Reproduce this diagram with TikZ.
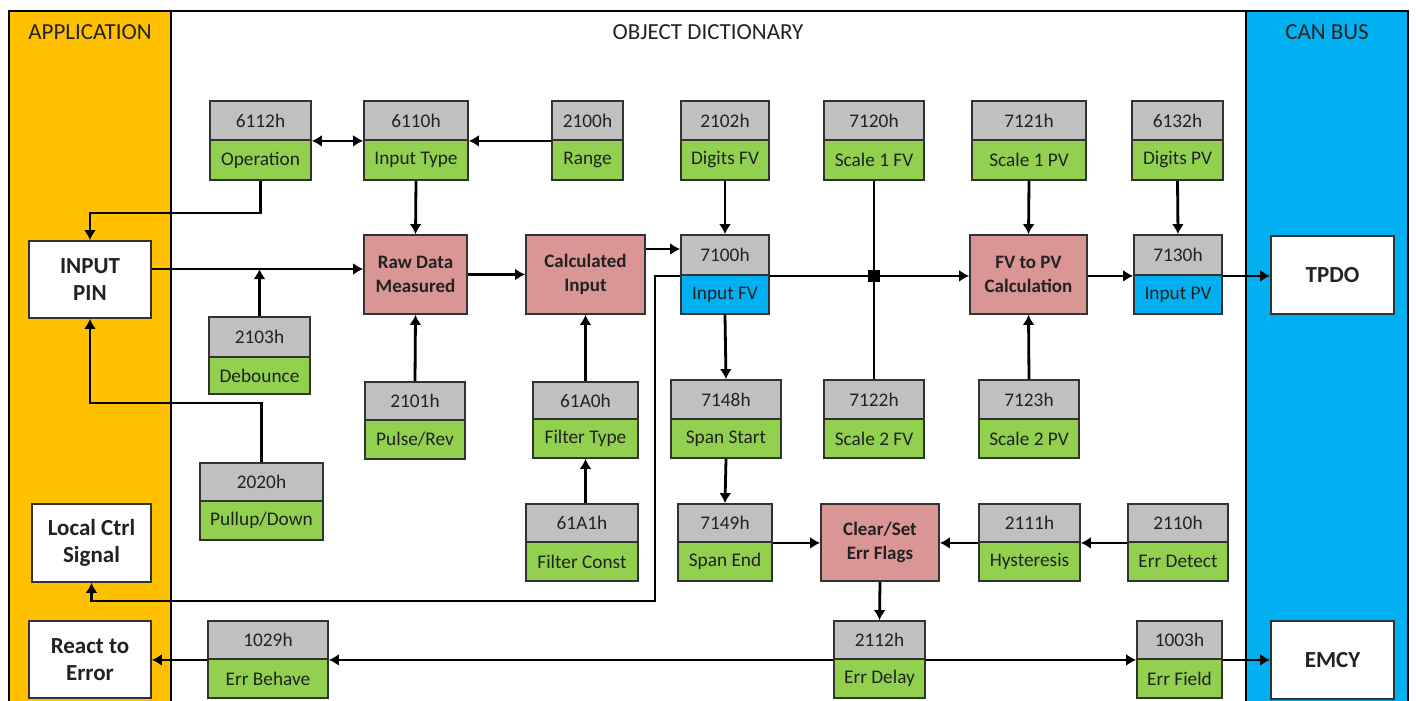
\documentclass[tikz,border=0pt]{standalone}
\usepackage{fontspec}
\setmainfont{Carlito}
\usetikzlibrary{arrows.meta,calc}
\definecolor{appor}{HTML}{FFC000}
\definecolor{canbl}{HTML}{00B0F0}
\definecolor{odgray}{HTML}{C0C0C0}
\definecolor{odgreen}{HTML}{92D050}
\definecolor{odred}{HTML}{DA9694}
\definecolor{odblue}{HTML}{00B0F0}
\definecolor{txt}{HTML}{222222}
\newcommand\objbox[9]{%
 \node[half, fill=odgray, minimum width={#3-#2}, minimum height={#5-#4}] (#1t) at ({(#2+#3)/2},{(#4+#5)/2}) {#7};
 \node[half, fill=#9, minimum width={#3-#2}, minimum height={#6-#5}] (#1b) at ({(#2+#3)/2},{(#5+#6)/2}) {#8};}
\newcommand\blk[7]{%
 \node[#2, minimum width={#4-#3}, minimum height={#6-#5}] (#1) at ({(#3+#4)/2},{(#5+#6)/2}) {#7};}
\begin{document}
\begin{tikzpicture}[x=1pt,y=-1pt,
 base/.style={draw=black!80, line width=1.8pt, inner sep=0pt, align=center},
 half/.style={base, font=\fontsize{19.3}{21}\selectfont, text=txt},
 proc/.style={base, fill=odred, font=\fontsize{19}{23.5}\selectfont\bfseries, text=txt},
 ext/.style={base, fill=white, font=\fontsize{23}{27}\selectfont\bfseries, text=txt},
 hdr/.style={font=\fontsize{23}{26}\selectfont, text=txt},
 ln/.style={line width=2.8pt, draw=black},
 arr/.style={ln, -{Latex[length=10pt,width=12pt]}},
 darr/.style={ln, {Latex[length=10pt,width=12pt]}-{Latex[length=10pt,width=12pt]}}
]
\useasboundingbox (0,0) rectangle (1416,701);
\fill[white] (0,0) rectangle (1416,701);
\fill[appor] (9,11) rectangle (171,701);
\fill[canbl] (1246,11) rectangle (1408,701);
\draw[line width=1.5pt] (9,702) -- (9,11) -- (1408,11) -- (1408,702);
\draw[line width=1.5pt] (171,11) -- (171,702);
\draw[line width=1.5pt] (1246,11) -- (1246,702);

\node[hdr] (apph) at (90,32) {APPLICATION};
\node[hdr] (odh) at (708,32) {OBJECT DICTIONARY};
\node[hdr] (canh) at (1327,32) {CAN BUS};

\objbox{op}{210}{311}{101}{140}{180}{6112h}{Operation}{odgreen}
\objbox{it}{364}{468}{101}{140}{180}{6110h}{Input Type}{odgreen}
\objbox{rg}{552}{623}{101}{140}{180}{2100h}{Range}{odgreen}
\objbox{dfv}{681}{769}{101}{140}{180}{2102h}{Digits FV}{odgreen}
\objbox{sfa}{824}{924}{101}{140}{180}{7120h}{Scale 1 FV}{odgreen}
\objbox{spa}{972}{1086}{101}{140}{180}{7121h}{Scale 1 PV}{odgreen}
\objbox{dpv}{1132}{1223}{101}{140}{180}{6132h}{Digits PV}{odgreen}
\objbox{ifv}{681}{769}{235}{275}{314}{7100h}{Input FV}{odblue}
\objbox{ipv}{1134}{1222}{235}{275}{314}{7130h}{Input PV}{odblue}
\objbox{deb}{209}{310}{317}{357}{394}{2103h}{Debounce}{odgreen}
\objbox{pr}{365}{465}{382}{420}{459}{2101h}{Pulse/Rev}{odgreen}
\objbox{ft}{533}{638}{382}{419}{458}{61A0h}{Filter Type}{odgreen}
\objbox{ss}{671}{781}{380}{419}{458}{7148h}{Span Start}{odgreen}
\objbox{sfb}{824}{924}{380}{419}{458}{7122h}{Scale 2 FV}{odgreen}
\objbox{spb}{979}{1079}{380}{419}{458}{7123h}{Scale 2 PV}{odgreen}
\objbox{pud}{200}{323}{463}{501}{540}{2020h}{Pullup/Down}{odgreen}
\objbox{fc}{526}{638}{504}{542}{581}{61A1h}{Filter Const}{odgreen}
\objbox{se}{678}{772}{504}{542}{581}{7149h}{Span End}{odgreen}
\objbox{hy}{979}{1080}{504}{542}{581}{2111h}{Hysteresis}{odgreen}
\objbox{erd}{1128}{1228}{504}{542}{581}{2110h}{Err Detect}{odgreen}
\objbox{ebh}{208}{328}{621}{659}{698}{1029h}{Err Behave}{odgreen}
\objbox{edl}{834}{925}{621}{659}{698}{2112h}{Err Delay}{odgreen}
\objbox{efl}{1137}{1222}{621}{659}{698}{1003h}{Err Field}{odgreen}

\blk{inpin}{ext}{29}{151}{241}{318}{INPUT\\PIN}
\blk{raw}{proc}{364}{467}{235}{314}{Raw Data\\Measured}
\blk{calc}{proc}{526}{645}{235}{314}{Calculated\\Input}
\blk{fvpv}{proc}{970}{1087}{235}{314}{FV to PV\\Calculation}
\blk{tpdo}{ext}{1271}{1394}{236}{314}{TPDO}
\blk{lcs}{ext}{32}{151}{504}{582}{Local Ctrl\\Signal}
\blk{rte}{ext}{29}{151}{621}{698}{React to\\Error}
\blk{cse}{proc}{821}{939}{504}{581}{Clear/Set\\Err Flags}
\blk{emcy}{ext}{1271}{1394}{621}{699}{EMCY}

\coordinate (yA) at (0,269);
\coordinate (yB) at (0,249);
\coordinate (yC) at (0,213);
\coordinate (yD) at (0,403);
\coordinate (yE) at (0,601);
\coordinate (xL) at (655,0);

\draw[darr] (opt.south east) -- (itt.south west);
\draw[arr] (rgt.south west) -- (itt.south east);
\draw[arr] (opb.south) -- (opb.south |- yC) -- (inpin.north |- yC) -- (inpin.north);
\draw[arr] (itb.south) -- (raw.north);
\draw[arr] (inpin.east |- yA) -- (raw.west |- yA);
\draw[arr] (debt.north) -- (debt.north |- yA);
\draw[arr] (pudt.north) -- (pudt.north |- yD) -- (inpin.south |- yD) -- (inpin.south);
\draw[arr] (prt.north) -- (raw.south);
\draw[arr] (raw.east) -- (calc.west);
\draw[arr] (ftt.north) -- (calc.south);
\draw[arr] (ftb.south |- fct.north) -- (ftb.south);
\draw[arr] (calc.east |- yB) -- (ifvt.west |- yB);
\draw[arr] (dfvb.south) -- (ifvt.north);
\draw[arr] (ifvt.south east) -- (fvpv.west |- ifvt.south east);
\draw[ln] (sfab.south) -- (sfbt.north);
\node[fill=black, minimum size=12pt, inner sep=0pt] (jn) at (sfab.south |- ifvt.south east) {};
\draw[arr] (spab.south) -- (fvpv.north);
\draw[arr] (spbt.north) -- (fvpv.south);
\draw[arr] (fvpv.east |- ipvt.south west) -- (ipvt.south west);
\draw[arr] (dpvb.south) -- (ipvt.north);
\draw[arr] (ipvt.south east) -- (tpdo.west |- ipvt.south east);
\draw[arr] (ifvb.south) -- (sst.north);
\draw[arr] (ssb.south) -- (set.north);
\draw[arr] (set.south east) -- (cse.west |- set.south east);
\draw[arr] (hyt.south west) -- (cse.east |- hyt.south west);
\draw[arr] (erdt.south west) -- (hyt.south east);
\draw[arr] (cse.south) -- (edlt.north);
\draw[arr] (edlt.south west) -- (ebht.south east);
\draw[arr] (ebht.south west) -- (rte.east |- ebht.south west);
\draw[arr] (edlt.south east) -- (eflt.south west);
\draw[arr] (eflt.south east) -- (emcy.west |- eflt.south east);
\draw[arr] (ifvt.south west) -- (xL |- ifvt.south west) -- (xL |- yE) -- (lcs.south |- yE) -- (lcs.south);
\end{tikzpicture}
\end{document}
